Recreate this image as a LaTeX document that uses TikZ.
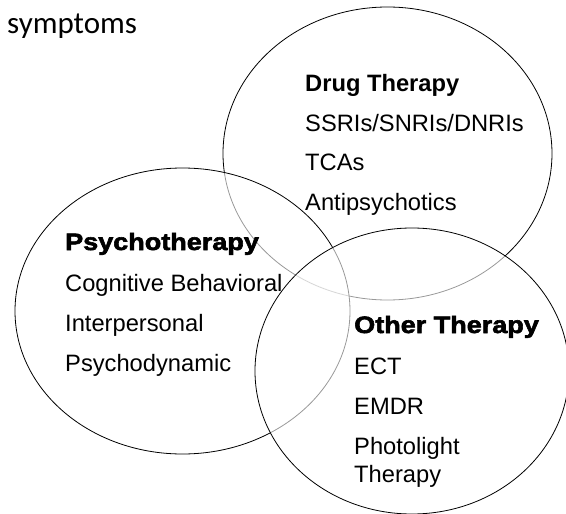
\documentclass[tikz,border=0pt]{standalone}
\usepackage{fontspec}
\setmainfont{Liberation Sans}
\newfontfamily\calib{Carlito}
\newfontface\heavy{Liberation Sans Bold}[FakeBold=2.5, FakeStretch=1.14]
\begin{document}
\begin{tikzpicture}[x=1pt,y=-1pt,
  ring/.style={draw=black, line width=0.8pt},
  veil/.style={ring, fill=white, fill opacity=0.6},
  txt/.style={anchor=base west, inner sep=0pt, font=\fontsize{23.7}{28}\selectfont},
  head/.style={txt, font=\fontsize{23.7}{28}\selectfont\bfseries},
  heavyhead/.style={txt, font=\fontsize{23.7}{28}\selectfont\heavy}]
\useasboundingbox (0,0) rectangle (566,514);
% title
\node[anchor=base west, inner sep=0pt, font=\fontsize{31}{35}\calib] (title) at (7,33) {symptoms};
% Drug therapy
\draw[ring] (387.5,153.5) ellipse [x radius=164.5pt, y radius=146.5pt];
\node[head] (drug) at (305,92) {Drug Therapy};
\node[txt] (ssri) at (305,131) {SSRIs/SNRIs/DNRIs};
\node[txt] (tca) at (305,170) {TCAs};
\node[txt] (anti) at (305,210) {Antipsychotics};
% Psychotherapy
\draw[veil] (182.5,311) ellipse [x radius=167.5pt, y radius=143pt];
\node[heavyhead] (psy) at (65,250) {Psychotherapy};
\node[txt] (cbt) at (65,291) {Cognitive Behavioral};
\node[txt] (inter) at (65,331) {Interpersonal};
\node[txt] (dyn) at (65,371) {Psychodynamic};
% Other therapy
\draw[veil] (412,371) ellipse [x radius=157pt, y radius=143pt];
\node[heavyhead] (oth) at (354,333) {Other Therapy};
\node[txt] (ect) at (354,374) {ECT};
\node[txt] (emdr) at (354,414) {EMDR};
\node[txt] (photo) at (354,454) {Photolight};
\node[txt] (ther) at (354,482) {Therapy};
\end{tikzpicture}
\end{document}
